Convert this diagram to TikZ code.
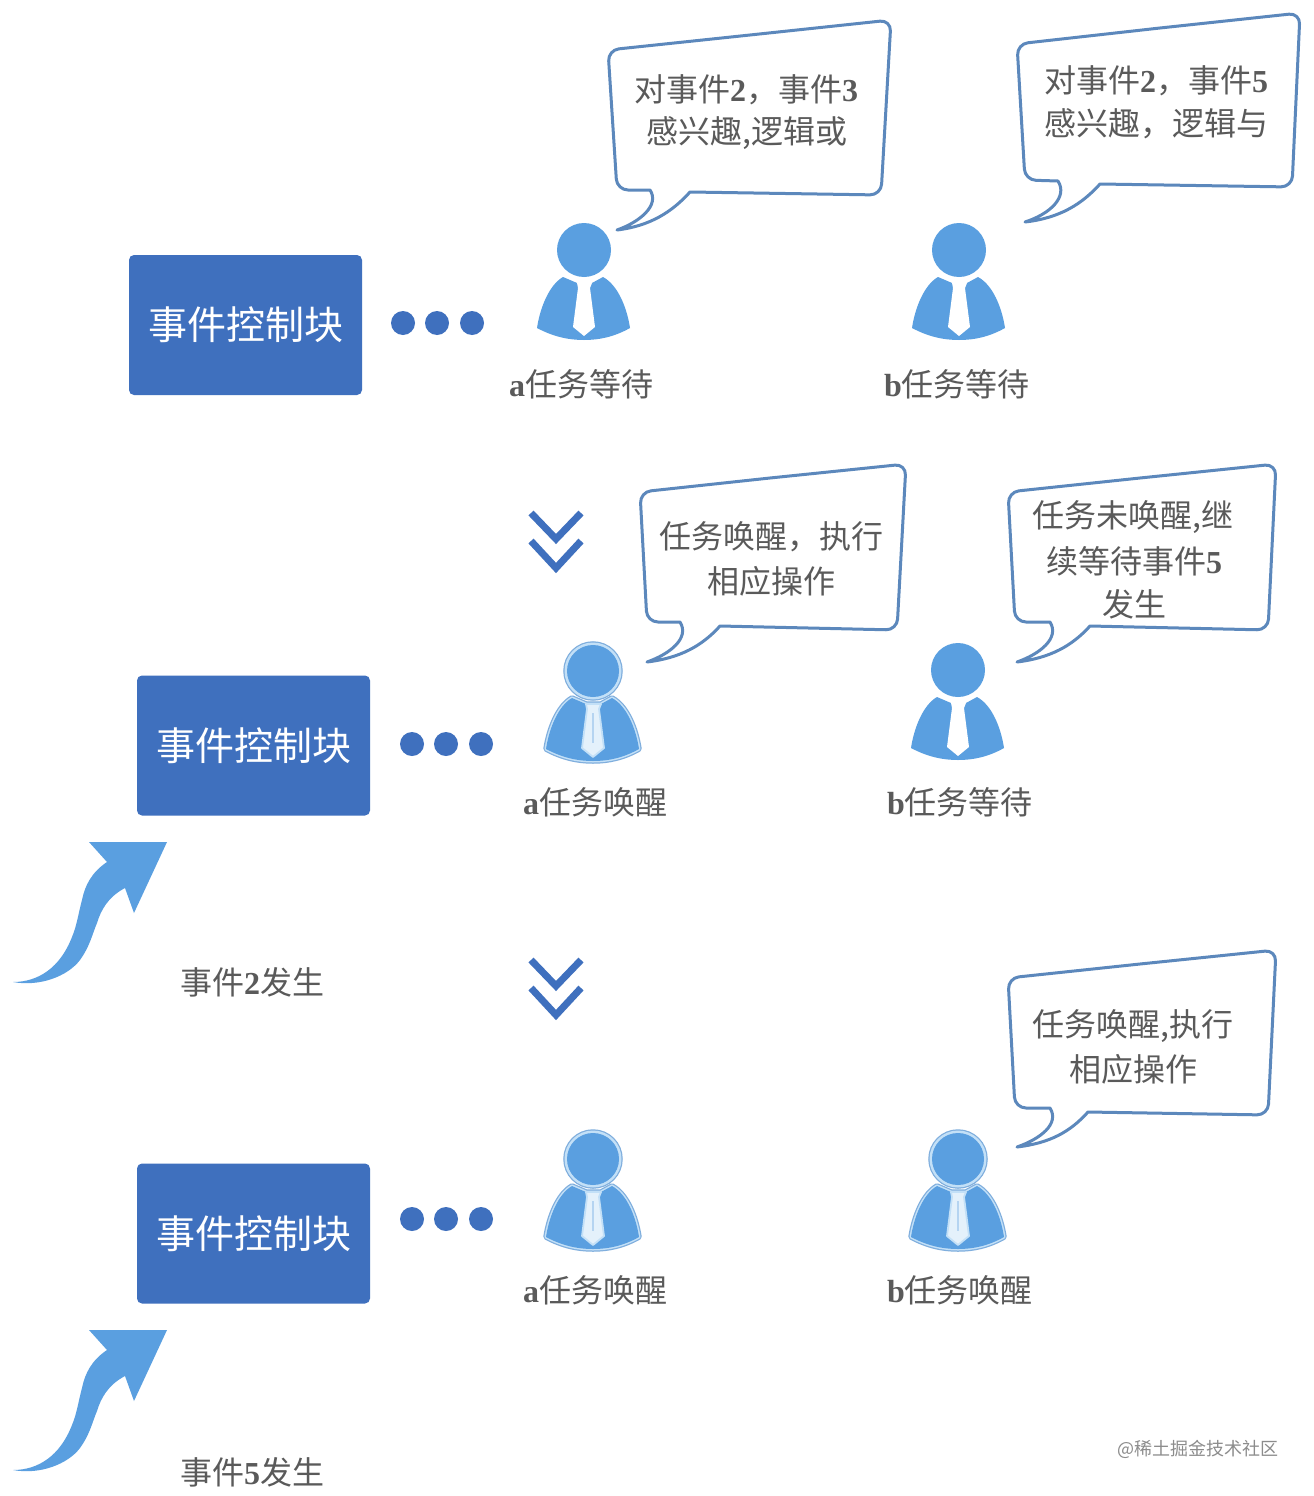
\documentclass[tikz,border=0pt]{standalone}
\usepackage{fontspec}
\setmainfont{Liberation Serif}
\newfontfamily\cjk{Noto Sans CJK SC}
\newfontfamily\wmfont{Noto Sans CJK SC}
\definecolor{boxblue}{HTML}{3F70BE}
\definecolor{personblue}{HTML}{5A9FE0}
\definecolor{halo}{HTML}{C3E0F7}
\definecolor{haloedge}{HTML}{7FAEDD}
\definecolor{bubbleline}{HTML}{5C88BC}
\definecolor{labelgray}{HTML}{5A5A5A}
\newcommand{\lat}[1]{{\rmfamily\bfseries #1}}
\newcommand{\boxtext}{\raisebox{2.5pt}{事件控制块}}
\tikzset{
  ctrlbox/.style={fill=boxblue,rounded corners=5pt,minimum width=233pt,minimum height=140pt,inner sep=0pt,
    text=white,font=\cjk\fontsize{39}{39}\selectfont},
  dotmark/.style={circle,fill=boxblue,minimum size=24pt,inner sep=0pt},
  tasklabel/.style={text=labelgray,inner sep=0pt,font=\cjk\fontsize{32}{32}\selectfont},
  bubbletext/.style={text=labelgray,inner sep=0pt,font=\cjk\fontsize{32}{32}\selectfont},
  bubble/.style={draw=bubbleline,fill=white,line width=3pt,line join=round},
  chev/.style={draw=boxblue,line width=7pt,miter limit=10},
  sleeper/.pic={
    \fill[personblue] (0,0) circle (27);
    \fill[personblue] (-21,27) .. controls (-35,35) and (-44,58) .. (-47,78)
      .. controls (-30,87) and (-15,90) .. (0,90) .. controls (15,90) and (30,87) .. (46,78)
      .. controls (43,58) and (34,35) .. (19,27) -- (8,33) -- (-7,33) -- cycle;
    \fill[white] (-7,33) -- (8,33) -- (6,38) -- (11,77) -- (0,86) -- (-11,77) -- (-6,38) -- cycle;
  },
  awake/.pic={
    \foreach \wd/\col in {5.5/haloedge,3/halo}{
      \draw[\col,line width=\wd pt] (0,0) circle (27);
      \draw[\col,line width=\wd pt,line join=round] (-21,27) .. controls (-35,35) and (-44,58) .. (-47,78)
        .. controls (-30,87) and (-15,90) .. (0,90) .. controls (15,90) and (30,87) .. (46,78)
        .. controls (43,58) and (34,35) .. (19,27) -- (8,33) -- (-7,33) -- cycle;
    }
    \fill[personblue] (0,0) circle (26);
    \fill[personblue] (-21,27) .. controls (-35,35) and (-44,58) .. (-47,78)
      .. controls (-30,87) and (-15,90) .. (0,90) .. controls (15,90) and (30,87) .. (46,78)
      .. controls (43,58) and (34,35) .. (19,27) -- (8,33) -- (-7,33) -- cycle;
    \draw[halo,fill=white!55!halo,line width=1.8pt,line join=round] (-7,33) -- (8,33) -- (6,38) -- (11,77) -- (0,86) -- (-11,77) -- (-6,38) -- cycle;
    \draw[personblue!45,line width=1.4pt] (0,42) -- (0,72);
  },
  risearrow/.pic={
    \fill[personblue] (167,842) -- (89,842) -- (107,862)
      .. controls (92,872) and (85,885) .. (82,900)
      .. controls (78,915) and (77,925) .. (72,937)
      .. controls (60,968) and (38,982) .. (13,982)
      .. controls (40,987) and (68,976) .. (80,960)
      .. controls (90,946) and (92,935) .. (97,923)
      .. controls (101,910) and (108,897) .. (125,888)
      -- (134,913) -- cycle;
  },
  doublechev/.pic={
    \draw[chev] (-25,-27) -- (0,-1) -- (25,-27);
    \draw[chev] (-25,1) -- (0,28) -- (25,1);
  }
}
\begin{document}
\begin{tikzpicture}[x=1pt,y=-1pt]
\useasboundingbox[fill=white] (0,0) rectangle (1314,1496);

% row 1
\node[ctrlbox] (box1) at (245.5,325) {\boxtext};
\node[dotmark] (d11) at (403,323) {};
\node[dotmark] (d12) at (437,323) {};
\node[dotmark] (d13) at (472,323) {};
\pic at (584,250) {sleeper};
\pic at (959,250) {sleeper};
\node[tasklabel] (la1) at (581,384) {\lat{a}\cjk 任务等待};
\node[tasklabel] (lb1) at (957,384) {\lat{b}\cjk 任务等待};

\draw[bubble] (750,35) [rounded corners=11pt] -- (891,20) -- (881,195) [sharp corners] -- (690,192)
  .. controls (672,212) and (650,226) .. (617,230)
  .. controls (640,222) and (660,205) .. (650,190) [rounded corners=11pt]
  -- (617,190) -- (608,50) -- (750,35);
\node[bubbletext] (t1a) at (746,90) {\cjk 对事件\lat{2}，事件\lat{3}};
\node[bubbletext] (t1b) at (747,133) {\cjk 感兴趣,逻辑或};

\draw[bubble] (1160,28) [rounded corners=11pt] -- (1300,13) -- (1292,187) [sharp corners] -- (1100,184)
  .. controls (1082,204) and (1060,218) .. (1025,222)
  .. controls (1050,214) and (1068,197) .. (1058,181) [rounded corners=11pt]
  -- (1025,180) -- (1017,44) -- (1160,28);
\node[bubbletext] (t2a) at (1156,81) {\cjk 对事件\lat{2}，事件\lat{5}};
\node[bubbletext] (t2b) at (1156,124) {\cjk 感兴趣，逻辑与};

% chevrons
\pic at (556,540) {doublechev};
\pic at (556,987) {doublechev};

% row 2
\node[ctrlbox] (box2) at (253.5,745.5) {\boxtext};
\node[dotmark] (d21) at (412,744) {};
\node[dotmark] (d22) at (446,744) {};
\node[dotmark] (d23) at (481,744) {};
\pic at (593,671) {awake};
\pic at (958,670) {sleeper};
\node[tasklabel] (la2) at (595,802) {\lat{a}\cjk 任务唤醒};
\node[tasklabel] (lb2) at (960,802) {\lat{b}\cjk 任务等待};

\draw[bubble] (770,478) [rounded corners=11pt] -- (906,464) -- (897,630) [sharp corners] -- (720,626)
  .. controls (702,646) and (680,658) .. (647,662)
  .. controls (670,654) and (690,638) .. (680,622) [rounded corners=11pt]
  -- (647,622) -- (640,492) -- (770,478);
\node[bubbletext] (t3a) at (771,537) {\cjk 任务唤醒，执行};
\node[bubbletext] (t3b) at (771,581) {\cjk 相应操作};

\draw[bubble] (1140,478) [rounded corners=11pt] -- (1276,464) -- (1268,630) [sharp corners] -- (1090,626)
  .. controls (1072,646) and (1050,658) .. (1017,662)
  .. controls (1040,654) and (1060,638) .. (1050,622) [rounded corners=11pt]
  -- (1015,622) -- (1008,492) -- (1140,478);
\node[bubbletext] (t4a) at (1133,517) {\cjk 任务未唤醒,继};
\node[bubbletext] (t4b) at (1134,561) {\cjk 续等待事件\lat{5}};
\node[bubbletext] (t4c) at (1134,604) {\cjk 发生};

\pic at (0,0) {risearrow};
\node[tasklabel] (ev2) at (252,982) {\cjk 事件\lat{2}发生};

% row 3
\node[ctrlbox] (box3) at (253.5,1233.5) {\boxtext};
\node[dotmark] (d31) at (412,1219) {};
\node[dotmark] (d32) at (446,1219) {};
\node[dotmark] (d33) at (481,1219) {};
\pic at (593,1159) {awake};
\pic at (958,1159) {awake};
\node[tasklabel] (la3) at (595,1290) {\lat{a}\cjk 任务唤醒};
\node[tasklabel] (lb3) at (960,1290) {\lat{b}\cjk 任务唤醒};

\draw[bubble] (1140,964) [rounded corners=11pt] -- (1276,950) -- (1268,1115) [sharp corners] -- (1088,1112)
  .. controls (1070,1132) and (1050,1143) .. (1017,1147)
  .. controls (1040,1139) and (1060,1124) .. (1050,1108) [rounded corners=11pt]
  -- (1015,1108) -- (1008,978) -- (1140,964);
\node[bubbletext] (t5a) at (1133,1026) {\cjk 任务唤醒,执行};
\node[bubbletext] (t5b) at (1133,1069) {\cjk 相应操作};

\pic at (0,488) {risearrow};
\node[tasklabel] (ev5) at (252,1472) {\cjk 事件\lat{5}发生};

\node[text=black!45,inner sep=0pt,font=\wmfont\fontsize{18}{18}\selectfont] (wm) at (1198,1449) {@稀土掘金技术社区};
\end{tikzpicture}
\end{document}
